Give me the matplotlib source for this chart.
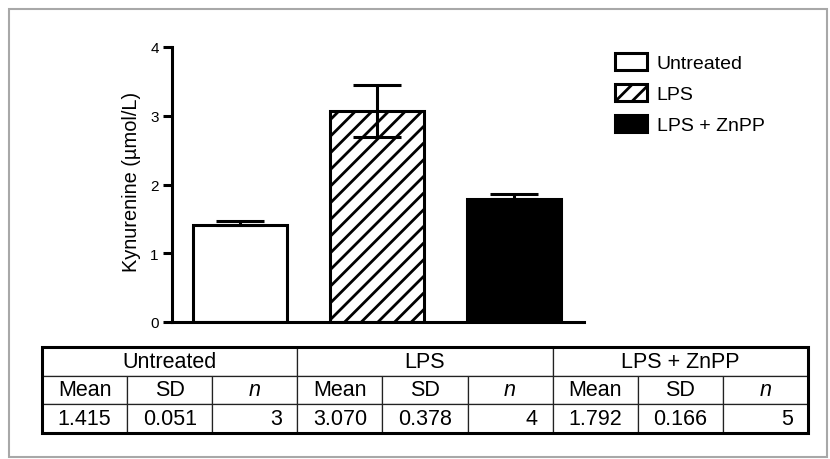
import matplotlib
matplotlib.use("Agg")
import matplotlib.pyplot as plt
from matplotlib.patches import Patch, Rectangle

plt.rcParams['font.family'] = ['Liberation Sans', 'DejaVu Sans']
plt.rcParams['hatch.linewidth'] = 2.0

groups = ['Untreated', 'LPS', 'LPS + ZnPP']
means = [1.415, 3.070, 1.792]
sds = [0.051, 0.378, 0.166]
ns = [3, 4, 5]
# error bar extents as drawn in the picture
err_lo = [0.0, 0.378, 0.0]
err_hi = [0.051, 0.378, 0.075]
yticks = [0, 1, 2, 3, 4]

W, H = 830, 460
fig = plt.figure(figsize=(W / 100, H / 100), dpi=100)

# grey frame around the whole figure
fig.patches.append(Rectangle((9 / W, 1 - 458 / H), 818 / W, 448 / H,
                             transform=fig.transFigure, fill=False,
                             edgecolor='#a8a8a8', lw=1.5))

ax = fig.add_axes([172 / W, 1 - 323 / H, 412 / W, 275 / H])
x = [0, 1, 2]
faces = ['white', 'white', 'black']
hatches = [None, '//', None]
bars = ax.bar(x, means, width=0.686, color=faces, edgecolor='black',
              linewidth=2.2, zorder=2)
for b, h in zip(bars, hatches):
    if h:
        b.set_hatch(h)
ax.errorbar(x, means, yerr=[err_lo, err_hi], fmt='none', ecolor='black',
            elinewidth=2.2, capsize=17, capthick=2.2, zorder=3)

ax.set_xlim(-0.496, 2.511)
ax.set_ylim(0, 4)
ax.set_yticks(yticks)
ax.set_xticks([])
for s in ['top', 'right']:
    ax.spines[s].set_visible(False)
for s in ['left', 'bottom']:
    ax.spines[s].set_linewidth(2.2)
ax.tick_params(axis='y', length=6.5, width=2.2, labelsize=11, pad=3)
ax.set_ylabel('Kynurenine (µmol/L)', fontsize=14.4)
ax.yaxis.set_label_coords(-0.075, 0.513)

handles = [Patch(facecolor=f, edgecolor='black', linewidth=2.2, hatch=h)
           for f, h in zip(faces, hatches)]
fig.legend(handles, groups, loc='upper left',
           bbox_to_anchor=(615 / W, 1 - 54 / H), frameon=False,
           fontsize=14, handlelength=1.65, handleheight=0.98,
           handletextpad=0.5, labelspacing=0.6, borderpad=0,
           borderaxespad=0)

# table under the chart
tax = fig.add_axes([42 / W, 1 - 434 / H, 766 / W, 86 / H])
tax.axis('off')
sub = []
vals = []
for m, s, n in zip(means, sds, ns):
    sub += ['Mean', 'SD', 'n']
    vals += [f'{m:.3f}', f'{s:.3f}', str(n)]

hdr = tax.table(cellText=[groups], cellLoc='center', bbox=[0, 2 / 3, 1, 1 / 3])
body = tax.table(cellText=[sub, vals], cellLoc='center', bbox=[0, 0, 1, 2 / 3])
for t in (hdr, body):
    t.auto_set_font_size(False)
    t.set_fontsize(15.5)
    for (r, c), cell in t.get_celld().items():
        cell.set_linewidth(0.9)
        cell.set_edgecolor('#222222')
for (r, c), cell in body.get_celld().items():
    if c % 3 == 2:
        if r == 0:
            cell.get_text().set_fontstyle('italic')
        else:
            cell.PAD = 0.18
            cell._loc = 'right'
            cell.get_text().set_horizontalalignment('right')
tax.add_patch(Rectangle((0, 0), 1, 1, transform=tax.transAxes, fill=False,
                        edgecolor='black', lw=2.2, clip_on=False, zorder=5))

fig.savefig('out.png', dpi=100)
